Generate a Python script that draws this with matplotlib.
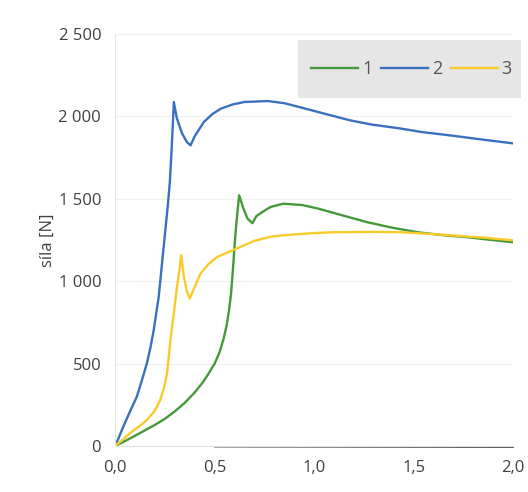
import matplotlib.pyplot as plt
from matplotlib.patches import Rectangle
from matplotlib.ticker import FuncFormatter

plt.rcParams['font.family'] = ['Open Sans', 'DejaVu Sans']

# series 1 (green)
x1 = [0.0, 0.05, 0.10, 0.15, 0.20, 0.25, 0.30, 0.35, 0.40, 0.44, 0.47, 0.50, 0.525, 0.545,
      0.56, 0.572, 0.583, 0.594, 0.606, 0.623, 0.645, 0.665, 0.69, 0.71, 0.74, 0.78, 0.845, 0.94,
      1.015, 1.14, 1.266, 1.39, 1.52, 1.64, 1.77, 1.89, 2.0]
y1 = [0, 30, 62, 95, 128, 165, 210, 262, 325, 385, 440, 500, 570, 650,
      730, 820, 930, 1109, 1309, 1521, 1440, 1380, 1352, 1395, 1420, 1450, 1470, 1462,
      1442, 1400, 1358, 1325, 1297, 1280, 1267, 1250, 1236]

# series 2 (blue)
x2 = [0.0, 0.02, 0.042, 0.075, 0.109, 0.135, 0.16, 0.178, 0.194, 0.219, 0.244, 0.264, 0.275,
      0.284, 0.29, 0.295, 0.31, 0.335, 0.36, 0.379, 0.40, 0.446, 0.49, 0.53, 0.59, 0.648, 0.766,
      0.85, 0.93, 1.04, 1.18, 1.29, 1.43, 1.54, 1.68, 1.84, 2.0]
y2 = [0, 55, 120, 210, 299, 400, 503, 600, 703, 905, 1208, 1450, 1600,
      1800, 1950, 2087, 1990, 1900, 1845, 1824, 1880, 1966, 2015, 2046, 2072, 2087, 2093,
      2080, 2055, 2020, 1976, 1950, 1927, 1905, 1885, 1860, 1836]

# series 3 (yellow)
x3 = [0.0, 0.04, 0.076, 0.12, 0.16, 0.20, 0.227, 0.245, 0.261, 0.278, 0.295, 0.311, 0.322, 0.332,
      0.345, 0.36, 0.375, 0.40, 0.429, 0.47, 0.513, 0.614, 0.70, 0.783, 0.85, 1.0, 1.1, 1.3,
      1.43, 1.54, 1.68, 1.84, 2.0]
y3 = [0, 40, 79, 118, 158, 215, 279, 350, 442, 642, 806, 966, 1060, 1158,
      1030, 940, 895, 965, 1047, 1105, 1147, 1200, 1245, 1270, 1279, 1292, 1297, 1299,
      1297, 1290, 1279, 1265, 1248]

# near-zero trace along the bottom
x4 = [0.5, 1.0, 1.5, 2.0]
y4 = [-5, -6, -7, -8]

labels = ['1', '2', '3']
colors = ['#46993a', '#3a70be', '#f9cb2a']

fig = plt.figure(figsize=(5.28, 4.92), dpi=100)
ax = fig.add_axes([0.218, 0.0935, 0.754, 0.8375])

for xs, ys, c, lab in [(x1, y1, colors[0], labels[0]),
                       (x2, y2, colors[1], labels[1]),
                       (x3, y3, colors[2], labels[2])]:
    ax.plot(xs, ys, color=c, lw=1.7, label=lab, solid_joinstyle='round')
ax.plot(x4, y4, color='#555555', lw=1.0, clip_on=False)

ax.set_xlim(0, 2.0)
ax.set_ylim(0, 2500)
ax.set_xticks([0, 0.5, 1.0, 1.5, 2.0])
ax.set_yticks([0, 500, 1000, 1500, 2000, 2500])
ax.xaxis.set_major_formatter(FuncFormatter(lambda v, p: f'{v:.1f}'.replace('.', ',')))
ax.yaxis.set_major_formatter(FuncFormatter(lambda v, p: f'{int(v):,}'.replace(',', ' ')))
ax.tick_params(length=0, labelsize=12, colors='#404040', pad=10)
ax.set_ylabel('síla [N]', fontsize=12, color='#404040', labelpad=2)

ax.grid(axis='y', color='#f0f0f0', lw=0.8)
for s in ['top', 'right']:
    ax.spines[s].set_visible(False)
ax.spines['left'].set_color('#e6e6e6')
ax.spines['bottom'].set_color('#e0e0e0')

# legend background box
ax.add_patch(Rectangle((0.46, 0.845), 0.56, 0.14, transform=ax.transAxes,
                       facecolor='#e6e6e6', edgecolor='none', clip_on=False, zorder=3))
leg = ax.legend(loc='center', bbox_to_anchor=(0.745, 0.915), ncol=3, frameon=False,
                fontsize=13, handlelength=2.6, columnspacing=0.5, handletextpad=0.2,
                borderpad=0.2)
leg.set_zorder(4)
for t in leg.get_texts():
    t.set_color('#555555')

plt.savefig('out.png', dpi=100)
